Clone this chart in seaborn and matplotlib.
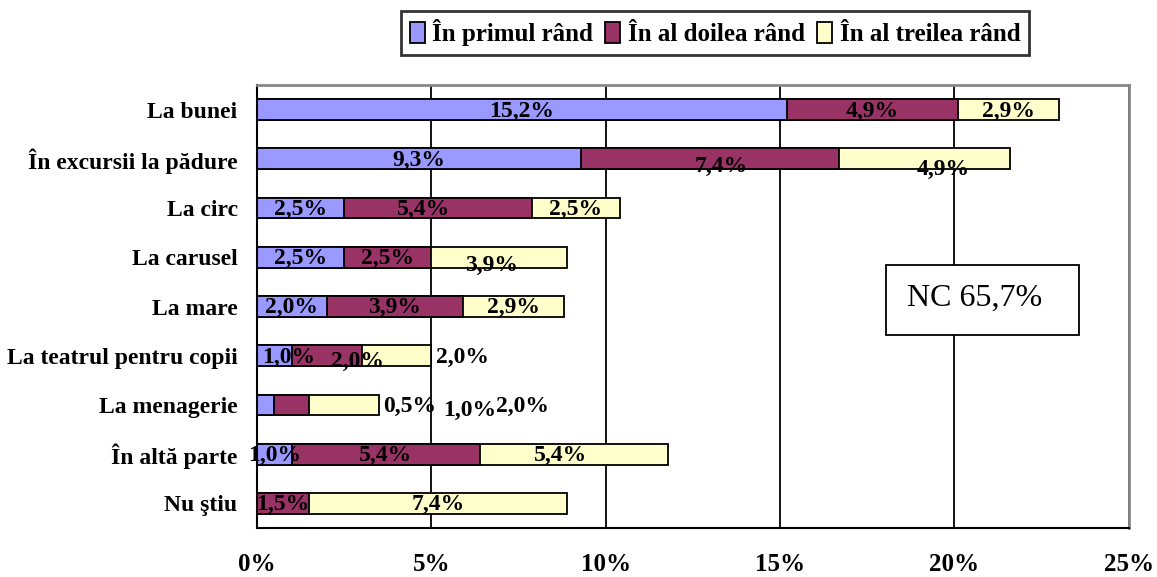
import numpy as np
import pandas as pd
import matplotlib.pyplot as plt
import seaborn as sns

categories = ["La bunei", "În excursii la pădure", "La circ", "La carusel", "La mare",
              "La teatrul pentru copii", "La menagerie", "În altă parte", "Nu ştiu"]
series = ["În primul rând", "În al doilea rând", "În al treilea rând"]
first = [15.2, 9.3, 2.5, 2.5, 2.0, 1.0, 0.5, 1.0, 0.0]
second = [4.9, 7.4, 5.4, 2.5, 3.9, 2.0, 1.0, 5.4, 1.5]
third = [2.9, 4.9, 2.5, 3.9, 2.9, 2.0, 2.0, 5.4, 7.4]
colors = ["#9999FF", "#993366", "#FFFFCC"]
nc_text = "NC 65,7%"

# label nudges in pixels (dx, dy) for labels that sit off-centre in the original
nudge = {
    (1, 1): (11, -6), (1, 2): (18, -9),
    (2, 1): (-15, 0),
    (3, 2): (-8, -7),
    (5, 0): (14, 0), (5, 1): (31, -4), (5, 2): (66, 0),
    (6, 0): (144, 0), (6, 1): (178, -4), (6, 2): (178, 0),
    (7, 2): (-14, 0),
}

df = pd.DataFrame({"cat": categories, "s1": first, "s2": second, "s3": third})
df["c1"] = df["s1"]
df["c2"] = df["s1"] + df["s2"]
df["c3"] = df["c2"] + df["s3"]

sns.set_style("white")
plt.rcParams["font.family"] = ["Liberation Serif", "DejaVu Serif"]
plt.rcParams["text.color"] = "black"
plt.rcParams["xtick.color"] = "black"
plt.rcParams["ytick.color"] = "black"
plt.rcParams["xtick.labelcolor"] = "black"
plt.rcParams["ytick.labelcolor"] = "black"

fig = plt.figure(figsize=(11.57, 5.77), dpi=100)
ax = fig.add_axes([0.2221, 0.0849, 0.9756 - 0.2221, 0.8527 - 0.0849])

for col, color in zip(["c3", "c2", "c1"], colors[::-1]):
    sns.barplot(data=df, x=col, y="cat", order=categories, color=color, width=0.42,
                edgecolor="black", linewidth=1.3, saturation=1, ax=ax)

ax.set_xlim(0, 25)
ax.set_ylim(len(categories) - 0.5, -0.5)
ax.set_xticks([0, 5, 10, 15, 20, 25])
ax.set_xticklabels([f"{t}%" for t in [0, 5, 10, 15, 20, 25]], fontsize=18, fontweight="bold")
ax.set_yticks(range(len(categories)))
ax.set_yticklabels(categories, fontsize=17, fontweight="bold")
ax.set_yticks(np.arange(-0.5, len(categories), 1), minor=True)
ax.tick_params(axis="y", which="major", length=0, pad=14)
ax.tick_params(axis="y", which="minor", length=6, width=1.5, direction="out", color="black")
ax.tick_params(axis="x", length=6, width=1.5, direction="out", color="black", pad=12)
ax.set_xlabel("")
ax.set_ylabel("")
ax.xaxis.grid(True, color="black", linewidth=1.3)
ax.set_axisbelow(True)
for s in ["left", "bottom"]:
    ax.spines[s].set_color("black")
    ax.spines[s].set_linewidth(1.5)
for s in ["top", "right"]:
    ax.spines[s].set_color("#888888")
    ax.spines[s].set_linewidth(2)
    ax.spines[s].set_visible(True)

vals = [first, second, third]
for i in range(len(categories)):
    start = 0.0
    for j in range(3):
        v = vals[j][i]
        if v > 0:
            dx, dy = nudge.get((i, j), (0, 0))
            ax.annotate(f"{v:.1f}%".replace(".", ","), (start + v / 2, i),
                        xytext=(dx * 0.72, dy * 0.72 - 1), textcoords="offset points",
                        ha="center", va="center", fontsize=17, fontweight="bold",
                        color="black")
        start += v

ax.add_patch(plt.Rectangle((0.7216, 0.4357), 0.2211, 0.158, transform=ax.transAxes,
                           facecolor="white", edgecolor="black", linewidth=1.3, zorder=5))
ax.text(0.8236, 0.519, nc_text, transform=ax.transAxes, ha="center", va="center",
        fontsize=23, zorder=6, color="black")

handles = [plt.Rectangle((0, 0), 1, 1, facecolor=c, edgecolor="black", linewidth=1.3)
           for c in colors]
leg = fig.legend(handles, series, loc="center", bbox_to_anchor=(0.618, 0.943), ncol=3,
                 frameon=True, fancybox=False, edgecolor="black", handlelength=0.6,
                 handleheight=0.9, handletextpad=0.3, columnspacing=0.5,
                 prop={"weight": "bold", "size": 18}, borderpad=0.35)
leg.get_frame().set_linewidth(2)
for t in leg.get_texts():
    t.set_color("black")

fig.savefig("out.png", dpi=100)
